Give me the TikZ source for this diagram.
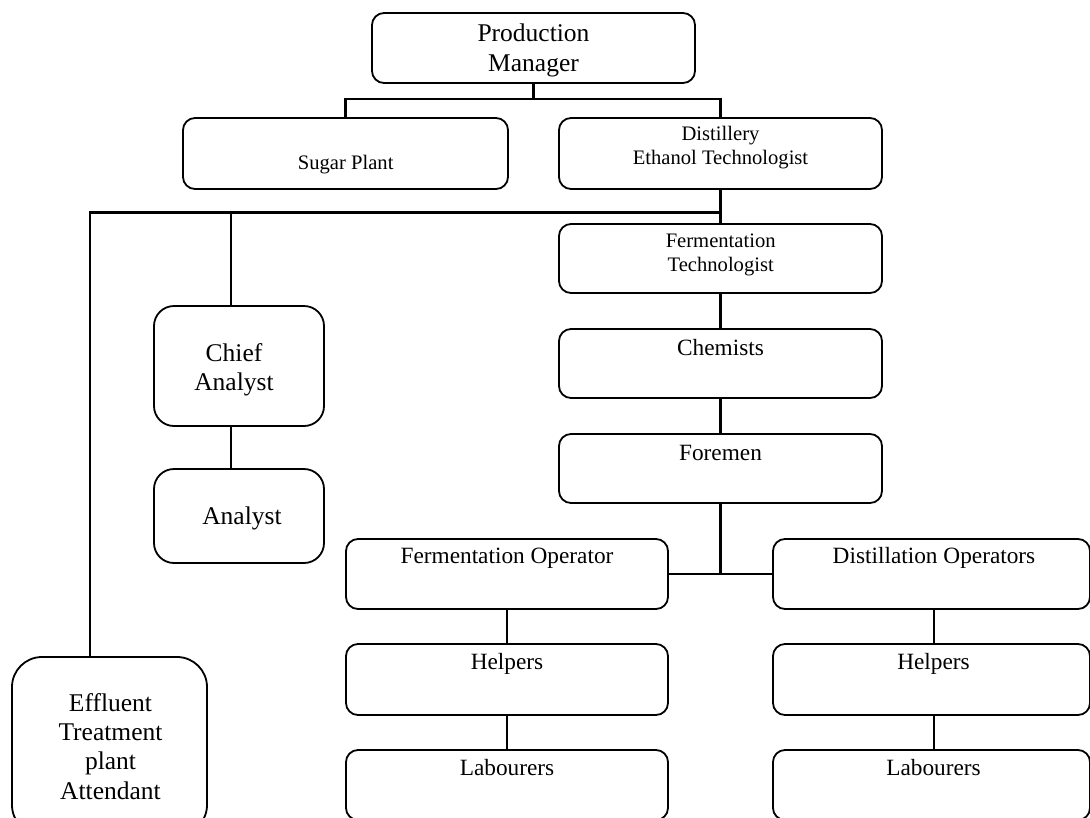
\documentclass[tikz,border=0pt]{standalone}
\usepackage{fontspec}
\setmainfont{Liberation Serif}
\begin{document}
\begin{tikzpicture}[x=1pt,y=-1pt,
  box/.style={draw, line width=1.8pt, rounded corners=12pt, inner sep=0pt},
  softbox/.style={box, rounded corners=20pt},
  roundbox/.style={box, rounded corners=30pt},
  link/.style={line width=2.5pt},
  big/.style={font=\fontsize{25.5}{29.5}\selectfont, align=center, anchor=base, inner sep=0pt},
  mid/.style={font=\fontsize{23.3}{28}\selectfont, align=center, anchor=base, inner sep=0pt},
  small/.style={font=\fontsize{20.6}{23.6}\selectfont, align=center, anchor=base, inner sep=0pt}]
\useasboundingbox (0,0) rectangle (1090,817);
\clip (0,0) rectangle (1090,817);

% boxes
\node[box, minimum width=323pt, minimum height=70pt] (pm) at (533.5,48) {};
\node[box, minimum width=325pt, minimum height=71pt] (sugar) at (345.5,153.5) {};
\node[box, minimum width=323pt, minimum height=71pt] (dist) at (720.5,153.5) {};
\node[box, minimum width=323pt, minimum height=69pt] (ftech) at (720.5,258.5) {};
\node[box, minimum width=323pt, minimum height=69pt] (chem) at (720.5,363.5) {};
\node[box, minimum width=323pt, minimum height=69pt] (fore) at (720.5,468.5) {};
\node[softbox, minimum width=170pt, minimum height=120pt] (chief) at (239,366) {};
\node[softbox, minimum width=170pt, minimum height=94pt] (analyst) at (239,516) {};
\node[roundbox, minimum width=195pt, minimum height=178pt] (effl) at (109.5,746) {};
\node[box, minimum width=322pt, minimum height=70pt] (fop) at (507,574) {};
\node[box, minimum width=317pt, minimum height=70pt] (dop) at (931.5,574) {};
\node[box, minimum width=322pt, minimum height=71pt] (helpl) at (507,679.5) {};
\node[box, minimum width=317pt, minimum height=71pt] (helpr) at (931.5,679.5) {};
\node[box, minimum width=322pt, minimum height=70pt] (labl) at (507,785) {};
\node[box, minimum width=317pt, minimum height=70pt] (labr) at (931.5,785) {};

% texts (multi-line texts sit on the baseline of their last line)
\node[big] (tpm) at (533.5,71) {Production\\Manager};
\node[small] (tsugar) at (345.7,169.3) {Sugar Plant};
\node[small] (tdist) at (720.5,164) {Distillery\\Ethanol Technologist};
\node[small] (tftech) at (720.7,271) {Fermentation\\Technologist};
\node[mid] (tchem) at (720.5,355) {Chemists};
\node[mid] (tfore) at (720.5,460) {Foremen};
\node[big] (tchief) at (234,390.5) {Chief\\Analyst};
\node[big] (tanalyst) at (242,524) {Analyst};
\node[big, font=\fontsize{25.5}{29.1}\selectfont] (teffl) at (110.5,799) {Effluent\\Treatment\\plant\\Attendant};
\node[mid] (tfop) at (507,563) {Fermentation Operator};
\node[mid] (tdop) at (934,563) {Distillation Operators};
\node[mid] (thelpl) at (507,669) {Helpers};
\node[mid] (thelpr) at (933.5,669) {Helpers};
\node[mid] (tlabl) at (507,775) {Labourers};
\node[mid] (tlabr) at (933.5,775) {Labourers};

% junction points
\coordinate (j1) at (533.5,99);
\coordinate (j2) at (720.5,212.7);

% connectors
\draw[link] (pm.south) -- (j1);
\draw[link] (sugar.north) |- (j1) -| (dist.north);
\draw[link] (dist.south) -- (ftech.north);
\draw[link] ([xshift=-19.5pt]effl.north) |- (j2);
\draw[link] ([xshift=-8pt]chief.north) -- ([xshift=-8pt]chief.north |- j2);
\draw[link] (ftech.south) -- (chem.north);
\draw[link] (chem.south) -- (fore.north);
\draw[link] ([xshift=-8pt]chief.south) -- ([xshift=-8pt]analyst.north);
\draw[link] (fore.south) -- (fore.south |- fop.east);
\draw[link] (fop.east) -- (dop.west);
\draw[link] (fop.south) -- (helpl.north);
\draw[link] (helpl.south) -- (labl.north);
\draw[link] ([xshift=2.5pt]dop.south) -- ([xshift=2.5pt]helpr.north);
\draw[link] ([xshift=2.5pt]helpr.south) -- ([xshift=2.5pt]labr.north);
\end{tikzpicture}
\end{document}
